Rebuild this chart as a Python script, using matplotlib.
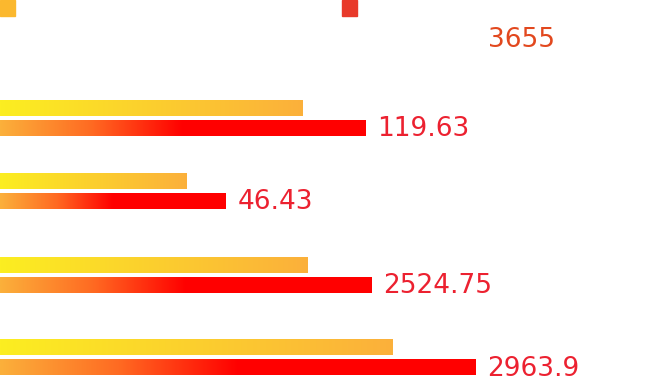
import numpy as np
import matplotlib.pyplot as plt
from matplotlib.colors import LinearSegmentedColormap
from matplotlib.patches import Rectangle

# bar lengths (percent of chart width) and the value labels shown next to the red bars
series_a = [0, 45.9, 28.4, 46.8, 59.7]
series_b = [0, 55.5, 34.3, 56.5, 72.2]
labels_b = ['3655', '119.63', '46.43', '2524.75', '2963.9']
label_colors = ['#e2481e', '#ec2130', '#ec2130', '#ec2130', '#ec2130']
legend_names = ['Series A', 'Series B']

# row centres in pixels from the top
row_y = [38, 118, 191, 275, 357.5]
bar_h = 16
gap = 20

cmap_a = LinearSegmentedColormap.from_list('a', ['#fcee21', '#fbb03b'])
cmap_b = LinearSegmentedColormap.from_list('b', [(0, '#fbb03b'), (0.25, '#ff6a22'),
                                                 (0.5, '#ff0000'), (1, '#ff0000')])

fig = plt.figure(figsize=(6.58, 3.77), dpi=100)
ax = fig.add_axes([0, 0, 1, 1])
ax.axis('off')

grad = np.linspace(0, 1, 256).reshape(1, -1)


def gradient_bars(values, offset, cmap):
    ys = [y + offset for y in row_y]
    bars = ax.barh(ys, values, height=bar_h, color='none', edgecolor='none')
    for bar in bars:
        w = bar.get_width()
        if w <= 0:
            continue
        y0 = bar.get_y()
        ax.imshow(grad, cmap=cmap, aspect='auto', interpolation='bilinear',
                  extent=[0, w, y0 + bar_h, y0], zorder=2)
    return bars


gradient_bars(series_a, -gap / 2, cmap_a)
bars_b = gradient_bars(series_b, gap / 2, cmap_b)
ax.set_xlim(0, 100)
ax.set_ylim(377, 0)

for i, bar in enumerate(bars_b):
    x = bar.get_width() + 1.8
    y = bar.get_y() + bar_h / 2 + 8
    if i == 0:
        x = 74.2
        y = row_y[0] + 9
    ax.text(x, y, labels_b[i], color=label_colors[i], fontsize=19,
            ha='left', va='baseline', family='DejaVu Sans')

# legend markers (legend text is white in the original)
fig.patches.append(Rectangle((0, 1 - 16 / 377), 15 / 658, 16 / 377,
                             transform=fig.transFigure, color='#fbb82e'))
fig.patches.append(Rectangle((342 / 658, 1 - 16 / 377), 15 / 658, 16 / 377,
                             transform=fig.transFigure, color='#e8392a'))
fig.text(20 / 658, 1 - 8 / 377, legend_names[0], color='white', fontsize=10, va='center')
fig.text(362 / 658, 1 - 8 / 377, legend_names[1], color='white', fontsize=10, va='center')

fig.savefig('out.png', dpi=100, facecolor='white')
